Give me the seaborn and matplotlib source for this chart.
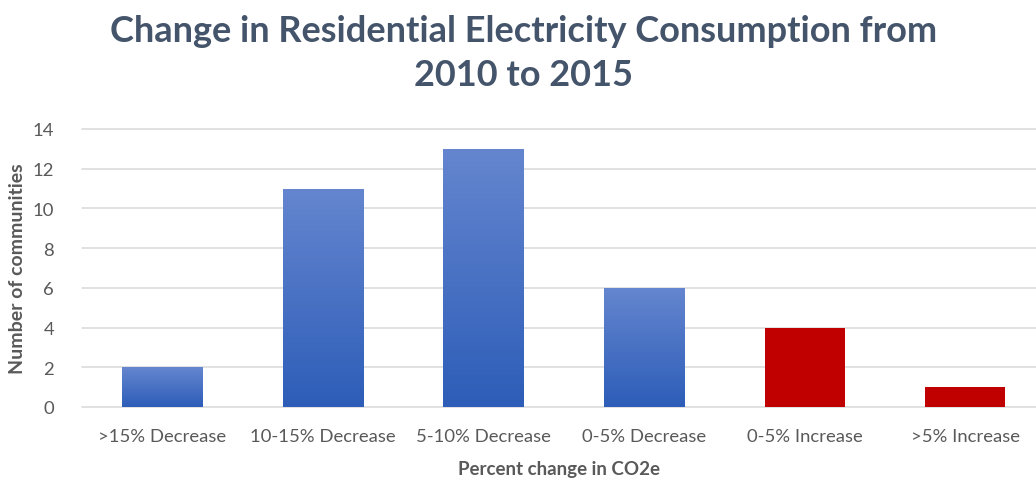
import numpy as np
import pandas as pd
import matplotlib
matplotlib.use("Agg")
import matplotlib.pyplot as plt
from matplotlib.colors import LinearSegmentedColormap
import seaborn as sns

categories = [">15% Decrease", "10-15% Decrease", "5-10% Decrease",
              "0-5% Decrease", "0-5% Increase", ">5% Increase"]
communities = [2, 11, 13, 6, 4, 1]
direction = ["Decrease", "Decrease", "Decrease", "Decrease", "Increase", "Increase"]
y_ticks = [0, 2, 4, 6, 8, 10, 12, 14]

df = pd.DataFrame({"category": categories, "count": communities, "direction": direction})

sns.set_theme(style="white")
plt.rcParams["font.family"] = ["Lato", "DejaVu Sans"]

text_color = "#595959"
title_color = "#44546A"
grid_color = "#D9D9D9"

fig = plt.figure(figsize=(10.36, 4.81), dpi=100)
ax = fig.add_axes([0.0789, 0.1518, 0.9211, 0.578])

sns.barplot(data=df, x="category", y="count", hue="direction",
            palette={"Decrease": "#4472C4", "Increase": "#C00000"},
            dodge=False, width=0.5, legend=False, ax=ax, saturation=1)

ax.set_xlim(-0.5, 5.44)
ax.set_ylim(0, 14)
ax.set_yticks(y_ticks)
for y in y_ticks:
    ax.axhline(y, color=grid_color, lw=1.1, zorder=0, clip_on=False)

# Blue bars get a vertical gradient fill
grad = LinearSegmentedColormap.from_list("bluegrad", ["#2D5DB8", "#6586CF"])
gradient = np.linspace(0, 1, 256).reshape(-1, 1)
for patch in ax.patches:
    fc = patch.get_facecolor()
    if fc[2] > fc[0]:
        x0, y0 = patch.get_x(), patch.get_y()
        w, h = patch.get_width(), patch.get_height()
        if h <= 0:
            continue
        patch.set_facecolor("none")
        patch.set_edgecolor("none")
        im = ax.imshow(gradient, extent=[x0, x0 + w, y0, y0 + h], origin="lower",
                       cmap=grad, aspect="auto", zorder=2, interpolation="bicubic")
        im.set_clip_path(patch)
    else:
        patch.set_zorder(2)
        patch.set_edgecolor("none")

ax.set_xlim(-0.5, 5.44)
ax.set_ylim(0, 14)

for s in ax.spines.values():
    s.set_visible(False)

ax.tick_params(axis="both", length=0, labelsize=13.3, colors=text_color)
ax.tick_params(axis="y", pad=20)
ax.tick_params(axis="x", pad=15)
for lbl in ax.get_yticklabels():
    lbl.set_horizontalalignment("right")

ax.set_xlabel("Percent change in CO2e", fontsize=13.5, fontweight="bold",
              color=text_color, labelpad=12)
ax.set_ylabel("Number of communities", fontsize=14, fontweight="bold",
              color=text_color)
ax.yaxis.set_label_coords(-0.058, 0.5)

fig.text(0.505, 0.935, "Change in Residential Electricity Consumption from",
         ha="center", va="center", fontsize=26, fontweight="bold", color=title_color)
fig.text(0.505, 0.843, "2010 to 2015",
         ha="center", va="center", fontsize=26, fontweight="bold", color=title_color)

fig.savefig("out.png", dpi=100)
